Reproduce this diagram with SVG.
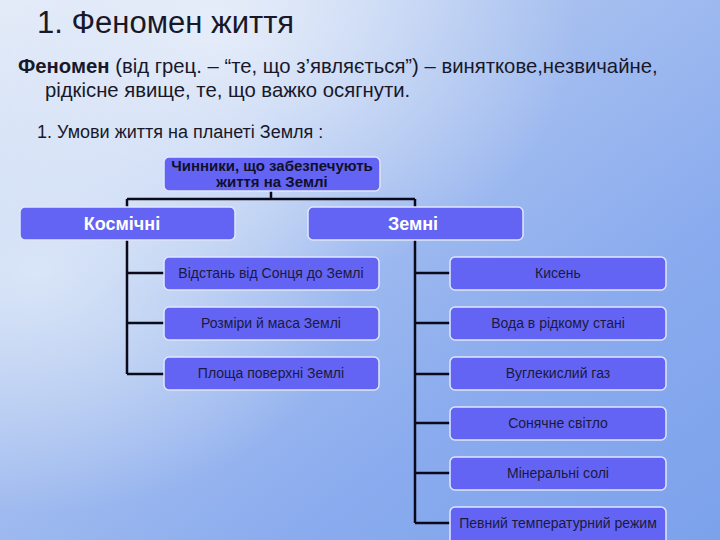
<svg xmlns="http://www.w3.org/2000/svg" width="720" height="540" viewBox="0 0 720 540">
<defs>
<linearGradient id="bg" x1="0" y1="0" x2="1" y2="1">
<stop offset="0" stop-color="#dfe8f7"/>
<stop offset="0.35" stop-color="#abc3f0"/>
<stop offset="0.7" stop-color="#8aabee"/>
<stop offset="1" stop-color="#7ca2ec"/>
</linearGradient>
<radialGradient id="glow" cx="0.05" cy="0.5" r="0.45">
<stop offset="0" stop-color="#dde8f8" stop-opacity="0.9"/>
<stop offset="1" stop-color="#dde8f8" stop-opacity="0"/>
</radialGradient>
<radialGradient id="glow2" cx="0.3" cy="0.05" r="0.5">
<stop offset="0" stop-color="#eef3fb" stop-opacity="0.8"/>
<stop offset="1" stop-color="#eef3fb" stop-opacity="0"/>
</radialGradient>
</defs>
<style>
.box{fill:#6464f4;stroke:#dfe6ff;stroke-width:1.5}
.t{font-family:"Liberation Sans",Arial,sans-serif;fill:#1a1a40;font-size:14px;text-anchor:middle}
.tb{font-family:"Liberation Sans",Arial,sans-serif;font-weight:bold;fill:#10102a;font-size:15px;text-anchor:middle}
.tw{font-family:"Liberation Sans",Arial,sans-serif;font-weight:bold;fill:#ffffff;font-size:18px;text-anchor:middle}
.hdr{font-family:"Liberation Sans",Arial,sans-serif;fill:#18182a}
.ln{stroke:#0a0a1a;stroke-width:2.5;fill:none}
</style>
<rect width="720" height="540" fill="url(#bg)"/>
<rect width="720" height="540" fill="url(#glow)"/>
<rect width="720" height="540" fill="url(#glow2)"/>

<text class="hdr" x="37" y="33" font-size="31">1. Феномен життя</text>
<text class="hdr" x="18" y="73" font-size="20.3"><tspan font-weight="bold">Феномен</tspan> (від грец. – “те, що з’являється”) – виняткове,незвичайне,</text>
<text class="hdr" x="45" y="97" font-size="20.3">рідкісне явище, те, що важко осягнути.</text>
<text class="hdr" x="37" y="138" font-size="18">1. Умови життя на планеті Земля :</text>

<g id="connectors">
<path class="ln" d="M271 191 V199 M127 199 H415 M127 199 V207 M415 199 V207"/>
<path class="ln" d="M127 240 V374 M127 273 H164 M127 323 H164 M127 374 H164"/>
<path class="ln" d="M415 240 V523 M415 273 H450 M415 323 H450 M415 374 H450 M415 423 H450 M415 473 H450 M415 523 H450"/>
</g>

<g id="n-root"><rect class="box" x="164" y="157" width="216" height="34" rx="5"/>
<text class="tb" x="272" y="171">Чинники, що забезпечують</text>
<text class="tb" x="272" y="187">життя на Землі</text></g>

<g id="n-kosm"><rect class="box" x="20" y="207" width="215" height="33" rx="5"/>
<text class="tw" x="122" y="230">Космічні</text></g>
<g id="n-zemni"><rect class="box" x="308" y="207" width="215" height="33" rx="5"/>
<text class="tw" x="413" y="230">Земні</text></g>

<g id="n-l1"><rect class="box" x="164" y="257" width="215" height="33" rx="5"/>
<text class="t" x="271" y="278">Відстань від Сонця до Землі</text></g>
<g id="n-l2"><rect class="box" x="164" y="307" width="215" height="33" rx="5"/>
<text class="t" x="271" y="328">Розміри й маса Землі</text></g>
<g id="n-l3"><rect class="box" x="164" y="357" width="215" height="33" rx="5"/>
<text class="t" x="271" y="378">Площа поверхні Землі</text></g>

<g id="n-r1"><rect class="box" x="450" y="257" width="216" height="33" rx="5"/>
<text class="t" x="558" y="278">Кисень</text></g>
<g id="n-r2"><rect class="box" x="450" y="307" width="216" height="33" rx="5"/>
<text class="t" x="558" y="328">Вода в рідкому стані</text></g>
<g id="n-r3"><rect class="box" x="450" y="357" width="216" height="33" rx="5"/>
<text class="t" x="558" y="378">Вуглекислий газ</text></g>
<g id="n-r4"><rect class="box" x="450" y="407" width="216" height="33" rx="5"/>
<text class="t" x="558" y="428">Сонячне світло</text></g>
<g id="n-r5"><rect class="box" x="450" y="457" width="216" height="33" rx="5"/>
<text class="t" x="558" y="478">Мінеральні солі</text></g>
<g id="n-r6"><rect class="box" x="450" y="507" width="216" height="40" rx="5"/>
<text class="t" x="558" y="528">Певний температурний режим</text></g>
</svg>
